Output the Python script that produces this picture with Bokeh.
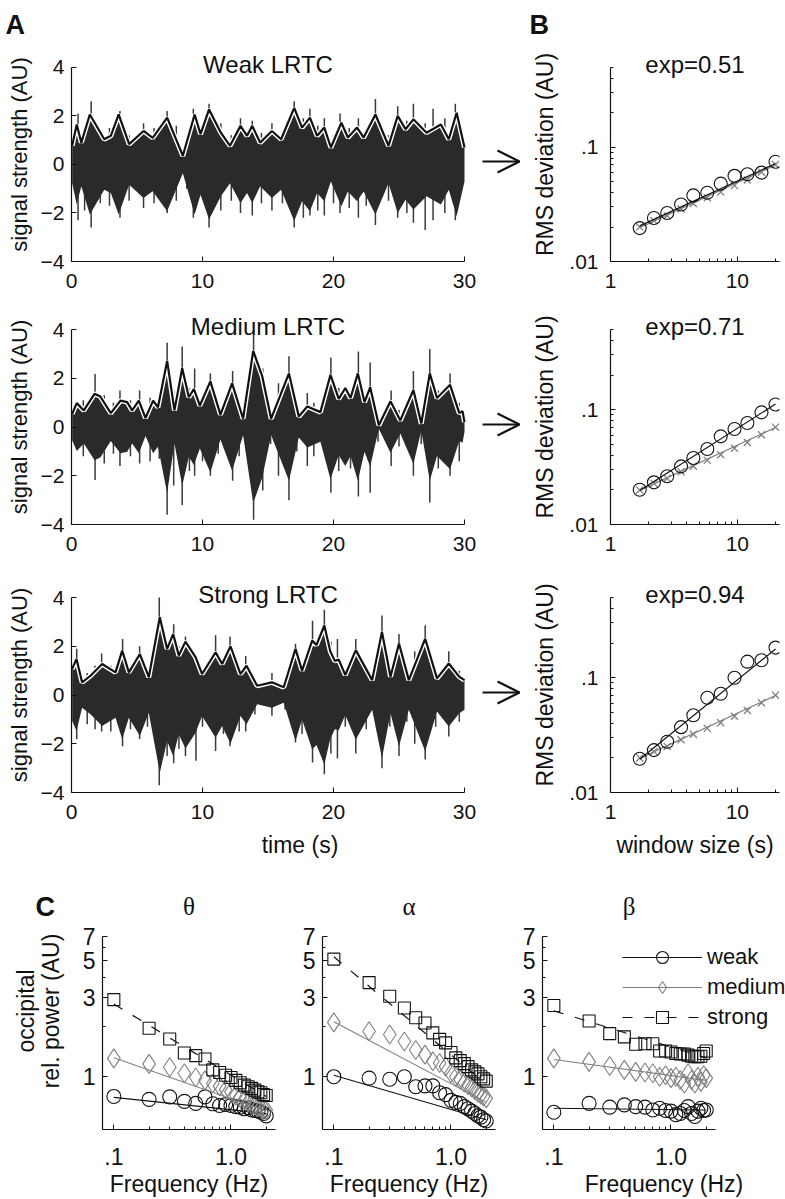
import math
from bokeh.plotting import figure
from bokeh.layouts import column, row
from bokeh.models import (Range1d, FixedTicker, Label, Arrow, OpenHead, Legend, LegendItem, LinearAxis)
from bokeh.embed import file_html
from bokeh.resources import INLINE

FONT = "Liberation Sans"

# ---------------- Panel A: signal envelopes (time s, amplitude AU) ----------------
t_weak = [0.05, 0.4, 0.75, 1.4, 2.5, 3.0, 3.6, 4.4, 5.5, 6.2, 7.3, 8.5, 9.4, 9.85, 10.5, 11.4, 12.1, 12.9, 13.4, 13.8,
          14.4, 15.3, 16.0, 17.0, 17.6, 18.2, 18.75, 19.3, 19.8, 20.6, 21.1, 21.8, 22.3, 23.2, 24.2, 24.9, 25.5, 26.1,
          27.1, 28.2, 28.8, 29.4, 30.0]
env_weak = [0.77, 1.65, 0.9, 2.06, 1.04, 1.18, 2.06, 0.84, 1.38, 1.1, 1.93, 0.36, 2.06, 1.25, 2.27, 1.31, 0.77, 1.59,
            1.18, 1.59, 0.9, 1.38, 1.04, 2.33, 1.52, 1.93, 1.18, 1.52, 0.7, 1.72, 1.11, 1.52, 1.11, 2.06, 0.77, 2.0,
            1.45, 1.86, 1.31, 1.65, 1.04, 2.13, 0.7]

t_medium = [0.05, 0.4, 0.94, 1.76, 2.2, 3.0, 3.74, 4.25, 4.63, 5.14, 5.65, 6.23, 6.6, 7.3, 7.86, 8.45, 8.96, 9.34,
            9.8, 10.6, 11.37, 12.26, 13.1, 13.87, 14.55, 15.24, 16.6, 17.35, 18.0, 19.0, 19.77, 20.4, 20.9, 21.3,
            21.86, 22.37, 22.8, 23.46, 24.35, 25.1, 26.1, 26.7, 27.35, 27.9, 28.9, 29.6, 29.85, 30.0]
env_medium = [0.54, 0.98, 0.68, 1.36, 1.25, 0.57, 1.08, 1.02, 0.68, 1.08, 0.37, 1.08, 0.81, 2.71, 0.68, 2.41, 1.22,
              1.56, 0.88, 1.87, 0.51, 1.79, 0.34, 3.12, 2.1, 0.34, 2.2, 0.43, 0.84, 0.61, 2.14, 1.15, 1.6, 1.19, 2.2,
              1.02, 1.63, 0.07, 1.06, 0.27, 1.52, 0.14, 2.2, 1.19, 1.73, 0.57, 0.65, 0.2]

t_strong = [0.05, 0.38, 0.81, 1.45, 2.34, 3.36, 3.87, 4.38, 5.22, 5.9, 6.74, 7.3, 7.76, 8.19, 8.7, 9.47, 9.97, 11.0,
            11.5, 12.14, 12.9, 13.36, 14.17, 15.3, 16.2, 17.1, 17.6, 18.37, 18.7, 19.3, 19.75, 20.1, 20.4, 20.9, 21.7,
            22.95, 23.7, 24.35, 25.0, 25.75, 27.0, 27.9, 28.8, 29.6, 30.0]
env_strong = [1.07, 1.48, 0.52, 0.79, 1.27, 0.93, 1.82, 0.93, 1.68, 0.73, 3.19, 1.89, 2.5, 1.62, 2.19, 1.55, 0.86,
              1.75, 1.27, 2.0, 0.86, 1.2, 0.38, 0.52, 0.32, 1.89, 1.0, 2.23, 2.05, 2.85, 1.8, 1.4, 1.45, 0.82, 1.84,
              0.61, 2.59, 0.75, 2.11, 0.61, 2.31, 0.68, 1.29, 0.75, 0.61]

# excursions of the raw signal (time, top, bottom)
spk_t_weak = [0.5, 1.5, 3.7, 5.5, 7.3, 9.3, 10.5, 12.9, 13.8, 15.3, 17.0, 18.2, 19.3, 20.5, 21.9, 23.2, 24.9, 26.1, 27.6, 29.3,
              1.0, 2.2, 2.9, 4.4, 6.3, 8.0, 8.8, 11.4, 12.2, 14.5, 16.1, 17.7, 18.8, 20.0, 21.2, 22.5, 24.2, 25.6, 27.0, 28.5]
spk_hi_weak = [2.1, 2.6, 2.2, 1.7, 2.2, 2.3, 2.5, 1.9, 1.8, 1.7, 2.6, 2.3, 1.9, 2.1, 1.9, 2.7, 2.4, 2.5, 2.3, 2.5,
               1.6, 1.4, 1.5, 1.2, 1.5, 1.6, 0.8, 1.7, 1.2, 1.3, 1.4, 1.9, 1.6, 1.2, 1.5, 1.4, 1.2, 1.8, 1.7, 1.9]
spk_lo_weak = [-2.3, -2.6, -2.2, -1.8, -2.0, -2.2, -2.6, -2.0, -2.1, -1.9, -2.6, -2.1, -2.1, -2.0, -2.2, -2.5, -2.2, -2.4, -2.3, -2.3,
               -1.9, -1.6, -1.7, -1.5, -1.6, -1.5, -1.0, -1.9, -1.5, -1.6, -1.6, -2.2, -1.9, -1.6, -1.8, -1.7, -1.5, -2.0, -2.7, -2.0]

spk_t_medium = [1.8, 3.7, 5.2, 7.3, 8.45, 9.4, 10.6, 12.3, 13.9, 14.6, 16.6, 18.0, 19.8, 21.9, 22.8, 24.4, 26.1, 27.35, 28.9,
                0.9, 2.5, 3.2, 4.5, 6.0, 6.7, 7.8, 9.0, 10.0, 11.2, 12.8, 15.2, 15.8, 17.2, 18.5, 20.4, 21.3, 23.4, 25.0, 26.7, 28.0, 29.6]
spk_hi_medium = [2.17, 1.5, 1.5, 3.46, 3.3, 2.4, 2.2, 2.3, 3.8, 2.4, 2.9, 1.4, 2.85, 3.1, 2.65, 1.5, 2.3, 3.2, 2.2,
                 1.1, 1.3, 1.0, 1.1, 1.2, 1.2, 1.5, 1.6, 1.2, 1.0, 1.0, 0.6, 1.8, 0.9, 1.0, 1.6, 1.5, 0.5, 0.7, 0.6, 1.5, 1.0]
spk_lo_medium = [-2.17, -1.6, -1.5, -3.6, -3.2, -2.0, -2.0, -2.2, -3.8, -2.6, -3.0, -1.6, -2.7, -2.85, -2.7, -1.6, -2.0, -3.1, -2.0,
                 -1.2, -1.5, -1.1, -1.2, -1.4, -1.3, -2.4, -1.8, -1.4, -1.1, -1.2, -0.7, -2.0, -1.0, -1.2, -1.8, -1.7, -0.6, -0.8, -0.7, -1.7, -1.4]

spk_t_strong = [0.4, 2.3, 3.9, 5.2, 6.7, 7.8, 8.7, 9.5, 11.0, 12.1, 13.3, 15.3, 17.1, 18.4, 19.3, 20.3, 21.7, 23.7, 25.0, 27.0, 28.8,
                1.2, 1.8, 3.0, 4.5, 5.8, 7.3, 8.2, 10.0, 11.6, 12.8, 14.0, 16.3, 17.6, 19.8, 20.9, 22.5, 24.3, 25.6, 26.2, 27.8, 29.6]
spk_hi_strong = [1.9, 1.7, 2.3, 2.0, 4.0, 2.9, 2.4, 1.6, 2.45, 2.4, 1.6, 0.9, 2.1, 3.05, 3.5, 2.3, 2.3, 3.26, 2.5, 2.86, 1.8,
                 0.9, 1.2, 1.2, 1.2, 1.0, 2.2, 2.0, 1.0, 1.5, 1.1, 0.6, 0.5, 1.3, 2.2, 1.0, 1.1, 1.0, 0.9, 1.8, 1.0, 1.0]
spk_lo_strong = [-1.8, -1.5, -2.1, -1.8, -3.7, -2.8, -2.5, -2.7, -2.3, -2.1, -1.5, -0.85, -1.95, -2.77, -3.25, -2.6, -2.4, -3.0, -2.5, -2.65, -1.7,
                 -1.2, -1.4, -1.5, -1.4, -1.3, -2.5, -2.2, -1.3, -1.6, -1.5, -0.8, -0.6, -1.6, -2.4, -1.3, -1.4, -1.3, -1.1, -2.0, -1.3, -1.1]

a_titles = ["Weak LRTC", "Medium LRTC", "Strong LRTC"]
a_xticks = [0, 10, 20, 30]
a_yticks = [-4, -2, 0, 2, 4]

# ---------------- Panel B: DFA ----------------
win_size = [1.7, 2.2, 2.8, 3.6, 4.5, 5.8, 7.4, 9.5, 12, 15.5, 20]
rms_weak = [0.0196, 0.024, 0.0266, 0.0315, 0.0379, 0.040, 0.048, 0.0562, 0.058, 0.060, 0.0746]
rms_medium = [0.0201, 0.0233, 0.0263, 0.0321, 0.038, 0.0455, 0.0586, 0.0679, 0.0766, 0.0948, 0.111]
rms_strong = [0.0197, 0.0234, 0.0277, 0.0371, 0.0471, 0.067, 0.0726, 0.1, 0.138, 0.142, 0.183]
rms_shuffled = [0.020, 0.0228, 0.0252, 0.0288, 0.0322, 0.0362, 0.0405, 0.0462, 0.0518, 0.0605, 0.0705]
fit_win = [1.7, 20]
fit_weak = [0.0205, 0.072]
fit_medium = [0.0198, 0.112]
fit_strong = [0.0195, 0.178]
fit_shuffled = [0.0198, 0.070]
b_titles = ["exp=0.51", "exp=0.71", "exp=0.94"]

# ---------------- Panel C: power spectra ----------------
freqs = [0.1, 0.2, 0.3, 0.4, 0.5, 0.6, 0.7, 0.8, 0.9, 1.0, 1.1, 1.2, 1.3, 1.4, 1.5, 1.6, 1.7, 1.8, 1.9, 2.0]
theta_weak = [0.76, 0.73, 0.755, 0.71, 0.69, 0.755, 0.686, 0.67, 0.68, 0.67, 0.66, 0.655, 0.64, 0.65, 0.63, 0.625, 0.62, 0.61, 0.60, 0.58]
theta_medium = [1.29, 1.195, 1.14, 1.05, 0.99, 0.95, 0.91, 0.877, 0.836, 0.81, 0.77, 0.747, 0.727, 0.70, 0.687, 0.67, 0.655, 0.65, 0.64, 0.63]
theta_strong = [2.92, 1.96, 1.69, 1.39, 1.34, 1.28, 1.1, 1.06, 1.02, 0.99, 0.95, 0.92, 0.89, 0.87, 0.85, 0.83, 0.81, 0.80, 0.78, 0.77]
alpha_weak = [1.0, 0.98, 0.965, 1.0, 0.87, 0.88, 0.88, 0.8, 0.78, 0.72, 0.70, 0.69, 0.66, 0.64, 0.62, 0.60, 0.58, 0.57, 0.55, 0.54]
alpha_medium = [2.13, 1.88, 1.80, 1.63, 1.45, 1.36, 1.24, 1.21, 1.15, 1.05, 1.0, 0.96, 0.92, 0.89, 0.86, 0.83, 0.80, 0.78, 0.76, 0.74]
alpha_strong = [5.13, 3.7, 3.06, 2.6, 2.27, 2.11, 1.84, 1.68, 1.6, 1.4, 1.3, 1.25, 1.2, 1.15, 1.1, 1.07, 1.04, 1.0, 0.97, 0.94]
beta_weak = [0.61, 0.69, 0.655, 0.676, 0.66, 0.655, 0.63, 0.645, 0.625, 0.62, 0.59, 0.60, 0.625, 0.66, 0.60, 0.575, 0.62, 0.645, 0.625, 0.63]
beta_medium = [1.29, 1.23, 1.16, 1.1, 1.07, 1.06, 1.05, 1.0, 1.02, 0.98, 1.0, 0.955, 0.91, 1.05, 0.955, 0.91, 1.0, 0.93, 1.02, 0.98]
beta_strong = [2.69, 2.17, 1.82, 1.74, 1.57, 1.58, 1.58, 1.43, 1.43, 1.41, 1.38, 1.37, 1.37, 1.35, 1.33, 1.32, 1.32, 1.33, 1.38, 1.43]
fit_freq = [0.1, 2.0]
theta_fit = {"weak": [0.75, 0.60], "medium": [1.3, 0.62], "strong": [2.75, 0.76]}
alpha_fit = {"weak": [1.02, 0.55], "medium": [2.15, 0.70], "strong": [5.3, 0.90]}
beta_fit = {"weak": [0.645, 0.63], "medium": [1.27, 0.95], "strong": [2.5, 1.30]}
c_titles = ["\u03b8", "\u03b1", "\u03b2"]
series_names = ["weak", "medium", "strong"]


def style(p, xstand=12, ystand=7):
    p.outline_line_color = None
    p.grid.visible = False
    for ax in p.axis:
        ax.axis_line_color = "#111111"
        ax.axis_line_width = 1.2
        ax.major_tick_in = 5
        ax.major_tick_out = 0
        ax.minor_tick_in = 3
        ax.minor_tick_out = 0
        ax.major_tick_line_color = "#111111"
        ax.minor_tick_line_color = "#111111"
        ax.major_label_text_font = FONT
        ax.major_label_text_font_size = "21px"
        ax.major_label_text_color = "#111111"
        ax.axis_label_text_font = FONT
        ax.axis_label_text_font_size = "23px"
        ax.axis_label_text_font_style = "normal"
        ax.axis_label_text_color = "#111111"
    p.xaxis.major_label_standoff = xstand
    p.yaxis.major_label_standoff = ystand


def letter(p, text, offset, standoff):
    p.title.text = text
    p.title.align = "left"
    p.title.offset = offset
    p.title.standoff = standoff
    p.title.text_font = FONT
    p.title.text_font_size = "27px"
    p.title.text_font_style = "bold"
    p.title.text_color = "#111111"


def data_label(p, text, x, y, yoff, size="24px", font=FONT):
    p.add_layout(Label(x=x, y=y, y_offset=yoff, text=text, text_align="center", text_baseline="middle",
                       text_font=font, text_font_size=size, text_color="#111111"))


# geometry in page pixels
A_FW, A_FH, EXT = 393, 195, 20         # data frame of panel A, extra room above for titles
A_FRAME_W = 457                          # frame extended to the right to hold the arrow
B_FW = 169
rows_geom = [(298, 46, 37), (262, 11, 36), (300, 17, 68)]  # row height, top border, bottom border
envs = [(t_weak, env_weak, spk_t_weak, spk_hi_weak, spk_lo_weak),
        (t_medium, env_medium, spk_t_medium, spk_hi_medium, spk_lo_medium),
        (t_strong, env_strong, spk_t_strong, spk_hi_strong, spk_lo_strong)]
b_rms = [(rms_weak, fit_weak), (rms_medium, fit_medium), (rms_strong, fit_strong)]

a_xmax = 30 * A_FRAME_W / A_FW
a_ymax = 4 + EXT * 8 / A_FH
b_decade = A_FH / math.log10(0.5 / 0.01)
b_ymax = 0.5 * 10 ** (EXT / b_decade)

layout_rows = []
for i in range(3):
    h, top, bot = rows_geom[i]
    tt, ee, st, sh, sl = envs[i]
    pa = figure(width=71 + A_FRAME_W, height=h, min_border_left=71, min_border_right=0, min_border_top=top,
                min_border_bottom=bot, x_range=Range1d(0, a_xmax), y_range=Range1d(-4, a_ymax),
                toolbar_location=None, output_backend="svg")
    style(pa)
    pa.xaxis.bounds = (0, 30)
    pa.yaxis.bounds = (-4, 4)
    pa.xaxis.ticker = FixedTicker(ticks=a_xticks)
    pa.yaxis.ticker = FixedTicker(ticks=a_yticks)
    pa.yaxis.major_label_overrides = {-4: "\u22124", -2: "\u22122", 0: "0", 2: "2", 4: "4"}
    pa.yaxis.axis_label = "signal strength (AU)"
    pa.yaxis.axis_label_standoff = 6
    pa.yaxis.axis_label_text_font_size = "22px"
    if i == 2:
        pa.xaxis.axis_label = "time (s)"
        pa.xaxis.axis_label_standoff = 10
    pa.segment(x0=st, y0=sl, x1=st, y1=sh, line_color="#3a3a3a", line_width=1.5)
    pa.varea(x=tt, y1=[-v for v in ee], y2=ee, fill_color="#2a2a2a")
    pa.line(tt, ee, line_color="white", line_width=5)
    pa.line(tt, ee, line_color="#111111", line_width=2.2)
    data_label(pa, a_titles[i], 15, 4, 3)
    pa.add_layout(Arrow(end=OpenHead(size=22, line_width=2.2, line_color="#111111"),
                        x_start=411, x_end=448, y_start=100, y_end=100,
                        start_units="screen", end_units="screen", line_width=2.2, line_color="#111111"))
    if i == 0:
        letter(pa, "A", -66, 15)

    rms, fit = b_rms[i]
    pb = figure(width=82 + B_FW + 6, height=h, min_border_left=82, min_border_right=6, min_border_top=top,
                min_border_bottom=bot, x_axis_type="log", y_axis_type="log",
                x_range=Range1d(1, 21.5), y_range=Range1d(0.01, b_ymax),
                toolbar_location=None, output_backend="svg")
    style(pb, ystand=12)
    pb.yaxis.bounds = (0.01, 0.5)
    pb.xaxis.ticker = FixedTicker(ticks=[1, 10], minor_ticks=[2, 3, 4, 5, 6, 7, 8, 9, 20])
    pb.xaxis.major_label_overrides = {1: "1", 10: "10"}
    pb.yaxis.ticker = FixedTicker(ticks=[0.01, 0.1], minor_ticks=[0.02, 0.03, 0.04, 0.05, 0.06, 0.07, 0.08, 0.09,
                                                                   0.2, 0.3, 0.4, 0.5])
    pb.yaxis.major_label_overrides = {0.01: ".01", 0.1: ".1"}
    pb.yaxis.axis_label = "RMS deviation (AU)"
    pb.yaxis.axis_label_standoff = 8
    if i == 2:
        pb.xaxis.axis_label = "window size (s)"
        pb.xaxis.axis_label_standoff = 10
    pb.line(fit_win, fit_shuffled, line_color="#808080", line_width=1.3)
    pb.scatter(win_size, rms_shuffled, marker="x", size=10, line_color="#808080", line_width=1.3)
    pb.line(fit_win, fit, line_color="#111111", line_width=1.2)
    pb.scatter(win_size, rms, marker="circle", size=13, fill_color=None, line_color="#111111", line_width=1.1)
    data_label(pb, b_titles[i], math.sqrt(21.5), 0.5, 3)
    if i == 0:
        letter(pb, "B", -81, 15)
    layout_rows.append(row(pa, pb))

# ---------------- Panel C ----------------
c_data = [(theta_weak, theta_medium, theta_strong, theta_fit),
          (alpha_weak, alpha_medium, alpha_strong, alpha_fit),
          (beta_weak, beta_medium, beta_strong, beta_fit)]
C_FW, C_FH, C_EXT = 173, 196, 45
c_geom = [(292, 102, 17, C_FW), (220, 30, 17, C_FW), (273, 30, 0, 243)]
c_xdec = C_FW / math.log10(2.4 / 0.08)
c_ydec = C_FH / math.log10(7.0 / 0.48)
c_ymax = 7.0 * 10 ** (C_EXT / c_ydec)
c_figs = []
for j in range(3):
    w, l, r, fw = c_geom[j]
    wk, md, st_, fits = c_data[j]
    xmax = 0.08 * 10 ** (fw / c_xdec)
    pc = figure(width=w, height=339, min_border_left=l, min_border_right=r, min_border_top=32,
                min_border_bottom=66, x_axis_type="log", y_axis_type="log",
                x_range=Range1d(0.08, xmax), y_range=Range1d(0.48, c_ymax),
                toolbar_location=None, output_backend="svg")
    style(pc, xstand=18, ystand=7)
    for ax in pc.axis:
        ax.major_label_text_font_size = "23px"
        ax.axis_label_text_font_size = "23px"
    pc.xaxis.bounds = (0.08, 2.4)
    pc.yaxis.bounds = (0.48, 7.0)
    pc.xaxis.ticker = FixedTicker(ticks=[0.1, 1.0], minor_ticks=[0.2, 0.3, 0.4, 0.5, 0.6, 0.7, 0.8, 0.9, 2.0])
    pc.xaxis.major_label_overrides = {0.1: ".1", 1.0: "1.0"}
    pc.yaxis.ticker = FixedTicker(ticks=[1, 3, 5, 7], minor_ticks=[2, 4, 6])
    pc.yaxis.major_label_overrides = {1: "1", 3: "3", 5: "5", 7: "7"}
    pc.xaxis.axis_label = "Frequency (Hz)"
    pc.xaxis.axis_label_standoff = 3
    if j == 0:
        pc.yaxis.axis_label = "rel. power (AU)"
        pc.yaxis.axis_label_standoff = 16
        extra = LinearAxis(axis_label="occipital", ticker=FixedTicker(ticks=[]), axis_line_color=None,
                           major_tick_line_color=None, minor_tick_line_color=None,
                           major_label_text_font_size="0px", major_label_standoff=0, axis_label_standoff=-4,
                           axis_label_text_font=FONT, axis_label_text_font_size="23px",
                           axis_label_text_font_style="normal", axis_label_text_color="#111111")
        pc.add_layout(extra, "left")
        letter(pc, "C", -67, -58)
    lw = pc.line(fit_freq, fits["weak"], line_color="#111111", line_width=1.1)
    sw = pc.scatter(freqs, wk, marker="circle", size=14, fill_color=None, line_color="#111111", line_width=1.1)
    lm = pc.line(fit_freq, fits["medium"], line_color="#808080", line_width=1.1)
    sm = pc.scatter(freqs, md, marker="diamond", size=19, fill_color=None, line_color="#808080", line_width=1.1)
    ls = pc.line(fit_freq, fits["strong"], line_color="#111111", line_width=1.2, line_dash="10 12")
    ss = pc.scatter(freqs, st_, marker="square", size=12, fill_color=None, line_color="#111111", line_width=1.1)
    data_label(pc, c_titles[j], math.sqrt(0.08 * 2.4), 7.0, 30, size="25px", font="Liberation Serif")
    if j == 2:
        leg = Legend(items=[LegendItem(label=series_names[0], renderers=[lw, sw]),
                            LegendItem(label=series_names[1], renderers=[lm, sm]),
                            LegendItem(label=series_names[2], renderers=[ls, ss])],
                     location=(80, 97), glyph_width=80, glyph_height=30, label_height=30, spacing=0,
                     padding=0, margin=0, label_standoff=5, border_line_color=None, background_fill_alpha=0,
                     label_text_font=FONT, label_text_font_size="22px", label_text_color="#111111")
        pc.add_layout(leg, "center")
    c_figs.append(pc)

layout_rows.append(row(*c_figs))
page = column(*layout_rows)

open("out.html", "w").write(file_html(page, INLINE))
